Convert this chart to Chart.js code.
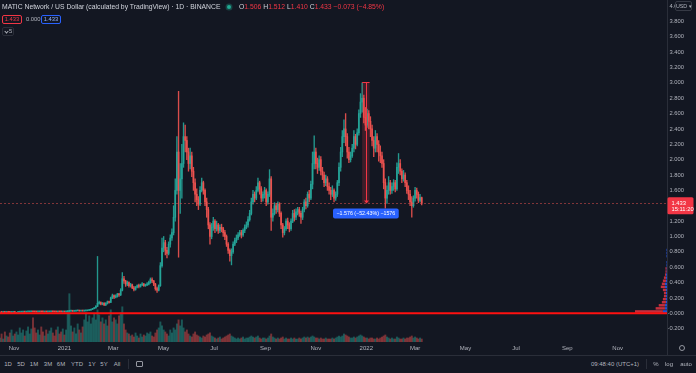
<!DOCTYPE html>
<html>
<head>
<meta charset="utf-8">
<script src="https://cdn.jsdelivr.net/npm/chart.js@4.4.1/dist/chart.umd.min.js"></script>
<style>
  html, body { margin: 0; padding: 0; background: #131722; }
  #wrap { position: relative; width: 696px; height: 373px; background: #131722; overflow: hidden;
          font-family: 'Liberation Sans', Arial, sans-serif; color: #d1d4dc; }
  #chart { position: absolute; left: 0; top: 0; }
  .abs { position: absolute; white-space: nowrap; }
  .title { font-size: 6.8px; line-height: 8px; color: #d1d4dc; }
  .ohlc { font-size: 6.8px; line-height: 8px; color: #d1d4dc; }
  .ohlc b { font-weight: normal; color: #f23645; }
  .dot { width: 4px; height: 4px; border-radius: 50%; background: #22ab94; box-shadow: 0 0 0 1.5px rgba(34,171,148,0.3); }
  .pill { box-sizing: border-box; width: 20px; height: 9px; border: 1px solid; border-radius: 2px;
          font-size: 5.8px; line-height: 7px; text-align: center; }
  .pill.red { border-color: #f23645; color: #f23645; }
  .pill.blue { border-color: #2962ff; color: #8fb0ff; }
  .small { font-size: 5.8px; line-height: 8px; color: #b2b5be; }
  .chev { box-sizing: border-box; width: 12px; height: 9px; border: 1px solid #2a2e39; border-radius: 2px;
          font-size: 5.8px; line-height: 7px; color: #b2b5be; padding-left: 6px; }
  .chev:before { content: ''; position: absolute; left: 2px; top: 1.5px; width: 2px; height: 2px;
                 border-right: 1px solid #b2b5be; border-bottom: 1px solid #b2b5be; transform: rotate(45deg); }
  .usd { box-sizing: border-box; left: 675px; top: 1px; width: 17px; height: 10px; background: #131722;
         border: 1px solid #363a45; border-radius: 2px; font-size: 5.3px; line-height: 8px; color: #b2b5be; text-align: center; }
  #toolbar { position: absolute; left: 0; top: 355px; width: 696px; height: 18px; border-top: 1px solid #2a2e39; box-sizing: border-box; }
  .tb { position: absolute; top: 4px; transform: translateX(-50%); font-size: 6px; line-height: 9px; color: #b2b5be; white-space: nowrap; }
  .sep { position: absolute; top: 3px; width: 1px; height: 10px; background: #2a2e39; }
  .gear { left: 679px; top: 345px; width: 6px; height: 6px; box-sizing: border-box; border: 1px solid #9598a1; border-radius: 50%; }
  .rng { left: 136px; top: 5px; width: 7px; height: 6px; box-sizing: border-box; border: 1px solid #9598a1; border-radius: 1px; }
</style>
</head>
<body>
<div id="wrap">
  <canvas id="chart" width="696" height="355"></canvas>

  <div class="abs title" style="left:2px;top:3px">MATIC Network / US Dollar (calculated by TradingView) · 1D · BINANCE</div>
  <div class="abs dot" style="left:227px;top:5px"></div>
  <div class="abs ohlc" id="ohlc" style="left:239px;top:3px"></div>
  <div class="abs pill red" id="pillA" style="left:2px;top:15px"></div>
  <div class="abs small" style="left:26px;top:15px">0.000</div>
  <div class="abs pill blue" id="pillB" style="left:41px;top:15px"></div>
  <div class="abs chev" style="left:2px;top:27px">5</div>

  <div class="abs usd">USD ▾</div>
  <div class="abs gear"></div>

  <div id="toolbar">
    <span class="tb" style="left:8px">1D</span>
    <span class="tb" style="left:21px">5D</span>
    <span class="tb" style="left:34px">1M</span>
    <span class="tb" style="left:48px">3M</span>
    <span class="tb" style="left:61px">6M</span>
    <span class="tb" style="left:77px">YTD</span>
    <span class="tb" style="left:92px">1Y</span>
    <span class="tb" style="left:104px">5Y</span>
    <span class="tb" style="left:117px">All</span>
    <span class="sep" style="left:128px"></span>
    <span class="abs rng"></span>
    <span class="tb" style="left:615px">09:48:40 (UTC+1)</span>
    <span class="sep" style="left:646px"></span>
    <span class="tb" style="left:656px">%</span>
    <span class="tb" style="left:669px">log</span>
    <span class="tb" style="left:686px">auto</span>
  </div>
</div>

<script>
/* ═══════════════════════════════════════════
   MATIC / USD — 1D candles, TradingView look
   ═══════════════════════════════════════════ */

// ── Data: one candle per 2 days, from 15 Oct 2020 ──
// x values are day numbers counted from 1 Nov 2020
const FIRST_DAY = -17;
const STEP_DAYS = 2;
const firstOpen = 0.014;

const closes = [
  0.014,0.013,0.014,0.013,0.014,0.013,0.012,0.013,0.014,0.013,
  0.013,0.014,0.015,0.016,0.017,0.016,0.018,0.019,0.020,0.022,
  0.020,0.019,0.018,0.019,0.020,0.019,0.018,0.019,0.018,0.019,
  0.020,0.021,0.020,0.019,0.018,0.020,0.019,0.018,0.019,0.018,
  0.022,0.025,0.028,0.030,0.027,0.029,0.032,0.034,0.030,0.031,
  0.030,0.031,0.033,0.037,0.042,0.050,0.060,0.070,0.090,0.130,
  0.14,0.12,0.13,0.11,0.13,0.15,0.14,0.20,0.23,0.21,
  0.22,0.25,0.24,0.30,0.45,0.42,0.38,0.40,0.36,0.37,
  0.33,0.31,0.34,0.36,0.35,0.37,0.38,0.36,0.37,0.38,
  0.40,0.44,0.42,0.38,0.32,0.30,0.36,0.62,0.85,0.92,
  0.82,0.78,0.90,0.98,1.05,1.25,1.60,2.10,1.60,1.75,
  1.95,2.30,2.25,2.10,1.95,2.05,1.85,1.70,1.55,1.48,
  1.42,1.60,1.70,1.60,1.45,1.35,1.15,1.00,1.12,1.20,
  1.10,1.15,1.08,1.12,1.10,1.05,1.00,0.90,0.82,0.75,
  0.80,0.90,0.95,0.98,1.02,1.05,1.02,1.08,1.12,1.15,
  1.22,1.30,1.45,1.55,1.50,1.60,1.70,1.62,1.50,1.55,
  1.60,1.45,1.55,1.75,1.25,1.30,1.40,1.35,1.42,1.30,
  1.15,1.05,1.10,1.20,1.15,1.10,1.20,1.30,1.25,1.32,
  1.35,1.30,1.25,1.35,1.45,1.40,1.55,1.50,1.68,1.95,
  2.10,1.95,1.90,2.00,1.85,1.80,1.70,1.75,1.65,1.60,
  1.55,1.60,1.50,1.55,1.70,1.90,2.10,2.30,2.40,2.30,
  2.10,2.00,2.05,2.15,2.30,2.20,2.35,2.60,2.75,2.80,
  2.55,2.45,2.60,2.50,2.40,2.25,2.15,2.30,2.20,2.10,
  2.05,1.95,1.70,1.50,1.60,1.70,1.60,1.65,1.70,1.62,
  1.90,1.95,1.85,1.75,1.80,1.70,1.60,1.55,1.45,1.40,
  1.50,1.60,1.55,1.47,1.506,1.433
];

const highs = [
  0.015,0.015,0.015,0.015,0.015,0.015,0.014,0.014,0.015,0.015,
  0.014,0.015,0.016,0.017,0.018,0.018,0.019,0.020,0.022,0.024,
  0.023,0.021,0.020,0.020,0.021,0.021,0.020,0.020,0.020,0.020,
  0.021,0.022,0.022,0.021,0.020,0.021,0.021,0.020,0.020,0.020,
  0.023,0.027,0.030,0.032,0.031,0.030,0.034,0.036,0.035,0.033,
  0.033,0.033,0.035,0.039,0.045,0.053,0.064,0.075,0.100,0.740,
  0.16,0.15,0.14,0.14,0.14,0.16,0.16,0.21,0.25,0.24,
  0.24,0.26,0.26,0.32,0.53,0.48,0.43,0.42,0.41,0.39,
  0.38,0.35,0.35,0.37,0.38,0.38,0.40,0.39,0.38,0.40,
  0.42,0.46,0.46,0.43,0.39,0.34,0.37,0.66,0.98,1.00,
  0.95,0.86,0.93,1.02,1.10,1.40,1.75,2.30,2.89,1.95,
  2.20,2.48,2.45,2.30,2.15,2.15,2.10,1.90,1.75,1.62,
  1.52,1.65,1.76,1.72,1.62,1.50,1.38,1.18,1.17,1.25,
  1.22,1.20,1.17,1.15,1.16,1.12,1.08,1.02,0.92,0.84,
  0.84,0.93,0.98,1.02,1.05,1.08,1.08,1.10,1.15,1.19,
  1.26,1.34,1.50,1.60,1.58,1.65,1.76,1.72,1.65,1.58,
  1.64,1.62,1.58,1.87,1.78,1.36,1.44,1.43,1.45,1.44,
  1.32,1.17,1.13,1.23,1.24,1.18,1.23,1.34,1.35,1.36,
  1.38,1.38,1.33,1.38,1.48,1.50,1.58,1.60,1.72,2.10,
  2.31,2.15,2.02,2.05,2.04,1.90,1.84,1.80,1.78,1.70,
  1.64,1.66,1.62,1.58,1.73,1.96,2.16,2.38,2.52,2.60,
  2.34,2.16,2.10,2.20,2.38,2.33,2.40,2.65,2.86,3.00,
  2.84,2.68,2.66,2.64,2.56,2.45,2.30,2.38,2.34,2.25,
  2.18,2.10,2.00,1.75,1.66,1.78,1.73,1.70,1.74,1.73,
  1.96,2.08,2.00,1.88,1.86,1.83,1.73,1.66,1.60,1.52,
  1.53,1.64,1.63,1.58,1.55,1.512
];

const lows = [
  0.013,0.012,0.013,0.012,0.013,0.012,0.011,0.012,0.013,0.012,
  0.012,0.013,0.014,0.015,0.016,0.015,0.016,0.018,0.019,0.020,
  0.019,0.018,0.017,0.017,0.018,0.018,0.017,0.017,0.017,0.018,
  0.018,0.019,0.019,0.018,0.017,0.018,0.018,0.017,0.017,0.017,
  0.017,0.021,0.024,0.027,0.025,0.026,0.028,0.031,0.028,0.028,
  0.028,0.029,0.030,0.032,0.036,0.041,0.048,0.058,0.068,0.085,
  0.12,0.11,0.11,0.10,0.10,0.12,0.13,0.14,0.19,0.19,
  0.20,0.21,0.22,0.23,0.29,0.39,0.35,0.36,0.34,0.34,
  0.32,0.29,0.30,0.33,0.33,0.34,0.36,0.35,0.35,0.36,
  0.37,0.39,0.40,0.36,0.30,0.27,0.29,0.35,0.60,0.80,
  0.76,0.72,0.76,0.86,0.95,1.02,1.20,1.55,0.73,1.30,
  1.50,1.90,2.10,2.00,1.85,1.88,1.78,1.60,1.45,1.40,
  1.35,1.40,1.58,1.55,1.40,1.25,1.10,0.90,0.97,1.08,
  1.05,1.07,1.04,1.05,1.06,1.00,0.96,0.87,0.78,0.68,
  0.63,0.78,0.88,0.92,0.96,1.00,0.98,1.00,1.05,1.10,
  1.12,1.20,1.28,1.42,1.45,1.48,1.58,1.55,1.45,1.46,
  1.50,1.40,1.42,1.52,1.08,1.20,1.28,1.30,1.32,1.26,
  1.10,0.99,1.02,1.08,1.10,1.06,1.08,1.18,1.20,1.22,
  1.28,1.26,1.17,1.22,1.32,1.36,1.38,1.45,1.48,1.62,
  1.88,1.88,1.82,1.86,1.80,1.74,1.65,1.66,1.60,1.55,
  1.48,1.52,1.45,1.47,1.52,1.66,1.85,2.04,2.22,2.18,
  2.02,1.96,1.97,2.03,2.10,2.14,2.18,2.32,2.55,2.62,
  2.48,2.38,2.42,2.40,2.30,2.18,2.04,2.10,2.10,1.98,
  1.96,1.90,1.62,1.37,1.43,1.55,1.55,1.56,1.60,1.58,
  1.60,1.82,1.80,1.70,1.72,1.65,1.56,1.48,1.40,1.25,
  1.38,1.46,1.50,1.44,1.45,1.410
];

// volume, millions (2-day buckets)
const volumes = [
  4,8,3,10,6,5,9,12,6,8,
  10,7,14,9,12,6,11,15,8,13,
  24,14,9,12,7,15,10,6,12,8,
  11,14,9,6,12,15,8,10,13,7,
  12,30,48,16,10,14,8,18,12,9,
  15,22,29,20,26,18,24,28,22,32,
  27,20,24,18,22,16,26,32,20,24,
  22,18,26,29,35,18,12,9,8,6,
  7,5,9,6,4,8,5,7,6,9,
  8,10,6,5,9,12,14,20,16,12,
  10,8,6,12,9,14,12,18,22,16,
  22,14,10,12,8,6,5,8,10,7,
  6,5,4,6,5,7,8,9,6,5,
  4,3,4,5,3,4,5,6,7,8,
  6,5,4,3,4,3,4,5,3,4,
  4,5,6,5,4,5,6,4,3,4,
  4,3,4,6,8,5,4,3,4,3,
  4,5,3,4,3,3,4,3,4,3,
  3,4,3,4,5,4,5,4,5,6,
  5,4,4,3,4,3,3,4,3,3,
  3,4,3,4,5,6,5,6,8,7,
  6,5,4,4,5,4,5,6,7,6,
  5,4,4,3,4,4,3,3,4,3,
  4,5,6,7,5,4,3,4,3,3,
  5,4,3,3,4,3,4,4,5,6,
  4,5,4,3,4,3
];

// ── Axis ticks ────────────────────────────
const xTickDays = [0, 61, 120, 181, 242, 304, 365, 426, 485, 546, 607, 669, 730];
const xTickLabels = ['Nov', '2021', 'Mar', 'May', 'Jul', 'Sep', 'Nov', '2022', 'Mar', 'May', 'Jul', 'Sep', 'Nov'];
const xRange = [-16.9, 789.6];
const yRange = [-0.374, 4.079];
const yStep = 0.2;

// ── Drawings ──────────────────────────────
const hLinePrice = 0;
const measureFrom = { day: 421, price: 3.006 };
const measureTo = { day: 430, price: 1.430 };
const lastTime = '15:11:20';

// volume profile (price rows)
const vpRow = 0.04;
const vpLevels = [0.02,0.06,0.10,0.14,0.18,0.22,0.26,0.30,0.34,0.38,0.42,0.46,0.50,0.54,0.58,0.62,0.66,0.70,0.74,0.78,0.82];
const vpDown   = [27,9,6,4,3,2,2,3,4,3,3,2,1,1,1,0,0,0,0,0,0];
const vpUp     = [4,2,2,1,1,1,1,1,2,2,1,1,1,0.5,0.5,0.5,0.5,0,0.5,0.5,0.5];

const UP = 'rgba(38,166,154,0.9)';
const DOWN = 'rgba(239,83,80,0.9)';

// ── Derived ───────────────────────────────
const opens = closes.map((c, i) => (i === 0 ? firstOpen : closes[i - 1]));
const days = closes.map((_, i) => FIRST_DAY + i * STEP_DAYS);
const isUp = i => closes[i] >= opens[i];
const last = closes.length - 1;

const bodies = days.map((d, i) => ({ x: d, y: [opens[i], closes[i]] }));
const wicks = days.map((d, i) => ({ x: d, y: [lows[i], highs[i]] }));
const vols = days.map((d, i) => ({ x: d, y: volumes[i] }));

// ── Legend text ───────────────────────────
const MINUS = '\u2212';
const signed = (v, dp) => (v < 0 ? MINUS : '') + Math.abs(v).toFixed(dp);
const chg = closes[last] - opens[last];
const chgPct = chg / opens[last] * 100;
document.getElementById('ohlc').innerHTML =
  `O<b>${opens[last].toFixed(3)}</b> H<b>${highs[last].toFixed(3)}</b> L<b>${lows[last].toFixed(3)}</b> C<b>${closes[last].toFixed(3)}</b> ` +
  `<b>${signed(chg, 3)} (${signed(chgPct, 2)}%)</b>`;
document.getElementById('pillA').textContent = closes[last].toFixed(3);
document.getElementById('pillB').textContent = closes[last].toFixed(3);

function fmtPrice(v) {
  if (Math.abs(v) < 1e-9) return MINUS + '0.000';
  return signed(v, 3);
}

// ── Overlays: drawings, price line, volume profile ──
const overlays = {
  id: 'overlays',
  afterDatasetsDraw(chart) {
    const { ctx, chartArea: a, scales: { x, y } } = chart;
    ctx.save();
    ctx.beginPath();
    ctx.rect(a.left, a.top, a.width, a.height);
    ctx.clip();

    // volume profile on the right edge
    const vpMax = Math.max(...vpUp.map((u, i) => u + vpDown[i]));
    const k = a.width * 0.048 / vpMax;
    vpLevels.forEach((p, i) => {
      const yt = y.getPixelForValue(p + vpRow / 2);
      const yb = y.getPixelForValue(p - vpRow / 2);
      const h = Math.max(1, yb - yt - 0.6);
      const wu = vpUp[i] * k, wd = vpDown[i] * k;
      ctx.fillStyle = 'rgba(41,98,255,0.8)';
      ctx.fillRect(a.right - wu, yt, wu, h);
      ctx.fillStyle = 'rgba(242,54,69,0.8)';
      ctx.fillRect(a.right - wu - wd, yt, wd, h);
    });

    // last price dotted line
    const py = Math.round(y.getPixelForValue(closes[last])) + 0.5;
    ctx.strokeStyle = 'rgba(239,83,80,0.5)';
    ctx.lineWidth = 1;
    ctx.setLineDash([2, 2]);
    ctx.beginPath();
    ctx.moveTo(a.left, py);
    ctx.lineTo(a.right, py);
    ctx.stroke();
    ctx.setLineDash([]);

    // horizontal line drawing
    const hy = y.getPixelForValue(hLinePrice);
    ctx.strokeStyle = '#ff1111';
    ctx.lineWidth = 2;
    ctx.beginPath();
    ctx.moveTo(a.left, hy);
    ctx.lineTo(a.right, hy);
    ctx.stroke();

    // price range measure
    const x0 = x.getPixelForValue(measureFrom.day);
    const x1 = x.getPixelForValue(measureTo.day);
    const y0 = y.getPixelForValue(measureFrom.price);
    const y1 = y.getPixelForValue(measureTo.price);
    const mx = Math.round((x0 + x1) / 2) + 0.5;
    ctx.fillStyle = 'rgba(242,54,69,0.2)';
    ctx.fillRect(x0, y0, x1 - x0, y1 - y0);
    ctx.strokeStyle = '#f23645';
    ctx.lineWidth = 1;
    ctx.beginPath();
    ctx.moveTo(x0, Math.round(y0) + 0.5);
    ctx.lineTo(x1, Math.round(y0) + 0.5);
    ctx.moveTo(mx, y0);
    ctx.lineTo(mx, y1 - 2);
    ctx.stroke();
    ctx.fillStyle = '#f23645';
    ctx.beginPath();
    ctx.moveTo(mx - 2.5, y1 - 3);
    ctx.lineTo(mx + 2.5, y1 - 3);
    ctx.lineTo(mx, y1);
    ctx.closePath();
    ctx.fill();

    const diff = measureTo.price - measureFrom.price;
    const pct = diff / measureFrom.price * 100;
    const ticks = Math.round(diff * 1000);
    const label = `${fmtPrice(diff)} (${signed(pct, 2)}%) ${signed(ticks, 0)}`;
    ctx.font = "5.3px 'Liberation Sans', Arial, sans-serif";
    const tw = ctx.measureText(label).width;
    const bw = tw + 7, bh = 10;
    const bx = (x0 + x1) / 2 - bw / 2, by = y1 + 5;
    ctx.fillStyle = '#2962ff';
    ctx.beginPath();
    ctx.roundRect(bx, by, bw, bh, 2);
    ctx.fill();
    ctx.fillStyle = '#ffffff';
    ctx.textAlign = 'center';
    ctx.textBaseline = 'middle';
    ctx.fillText(label, bx + bw / 2, by + bh / 2 + 0.3);

    ctx.restore();
  },
  afterDraw(chart) {
    const { ctx, chartArea: a, scales: { y } } = chart;
    ctx.save();
    // axis separator
    ctx.strokeStyle = '#2a2e39';
    ctx.lineWidth = 1;
    ctx.beginPath();
    ctx.moveTo(Math.round(a.right) + 0.5, 0);
    ctx.lineTo(Math.round(a.right) + 0.5, chart.height);
    ctx.stroke();

    // last price tag
    const py = y.getPixelForValue(closes[last]);
    ctx.fillStyle = '#f23645';
    ctx.beginPath();
    ctx.roundRect(a.right + 0.5, py - 6, 26, 17, 1.5);
    ctx.fill();
    ctx.fillStyle = '#ffffff';
    ctx.font = "5.8px 'Liberation Sans', Arial, sans-serif";
    ctx.textAlign = 'left';
    ctx.textBaseline = 'middle';
    ctx.fillText(closes[last].toFixed(3), a.right + 4.5, py + 0.5);
    ctx.fillText(lastTime, a.right + 4.5, py + 6.5);
    ctx.restore();
  }
};

// ── Chart ─────────────────────────────────
const candleColor = c => (isUp(c.dataIndex) ? UP : DOWN);
const volColor = c => (isUp(c.dataIndex) ? 'rgba(38,166,154,0.45)' : 'rgba(239,83,80,0.45)');

new Chart(document.getElementById('chart'), {
  type: 'bar',
  data: {
    datasets: [
      { label: 'body', data: bodies, backgroundColor: candleColor, barThickness: 1.1,
        minBarLength: 1, grouped: false, order: 1 },
      { label: 'wick', data: wicks, backgroundColor: candleColor, barThickness: 0.7,
        grouped: false, order: 2 },
      { label: 'volume', data: vols, backgroundColor: volColor, barThickness: 1.3,
        yAxisID: 'yv', grouped: false, order: 3 },
    ],
  },
  options: {
    responsive: false,
    animation: false,
    devicePixelRatio: 1,
    layout: { padding: { left: 0, top: 0, right: 12, bottom: 0 } },
    plugins: { legend: { display: false }, tooltip: { enabled: false } },
    scales: {
      x: {
        type: 'linear',
        offset: false,
        min: xRange[0],
        max: xRange[1],
        grid: { display: false, drawTicks: false, offset: false },
        border: { display: false },
        afterBuildTicks: s => { s.ticks = xTickDays.map(v => ({ value: v })); },
        afterFit: s => { s.height = 13; s.paddingLeft = 0; s.paddingRight = 0; },
        ticks: {
          autoSkip: false, maxRotation: 0, padding: 3,
          color: '#b2b5be',
          font: { size: 6 },
          callback: (v, i) => xTickLabels[i],
        },
      },
      y: {
        position: 'right',
        min: yRange[0],
        max: yRange[1],
        grid: { display: false, drawTicks: false },
        border: { display: false },
        afterFit: s => { s.width = 17; s.paddingTop = 0; s.paddingBottom = 0; },
        ticks: {
          stepSize: yStep, includeBounds: false, crossAlign: 'far', padding: 0,
          color: '#b2b5be',
          font: { size: 5.8 },
          callback: v => fmtPrice(v),
        },
      },
      yv: { display: false, min: 0, max: 340 },
    },
  },
  plugins: [overlays],
});
</script>
</body>
</html>
